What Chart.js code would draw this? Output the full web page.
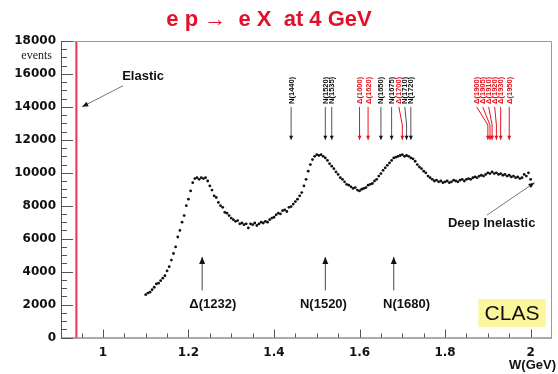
<!DOCTYPE html>
<html>
<head>
<meta charset="utf-8">
<script src="https://cdn.jsdelivr.net/npm/chart.js@4"></script>
<style>
html,body{margin:0;padding:0;background:#fff;}
canvas{display:block;}
</style>
</head>
<body>
<canvas id="c" width="558" height="374" style="width:558px;height:374px"></canvas>
<script>
// ---- data ----
const W = [
1.100,1.105,1.110,1.115,1.120,1.125,1.130,1.135,1.140,1.145,
1.150,1.155,1.160,1.165,1.170,1.175,1.180,1.185,1.190,1.195,
1.200,1.205,1.210,1.215,1.220,1.225,1.230,1.235,1.240,1.245,
1.250,1.255,1.260,1.265,1.270,1.275,1.280,1.285,1.290,1.295,
1.300,1.305,1.310,1.315,1.320,1.325,1.330,1.335,1.340,1.345,
1.350,1.355,1.360,1.365,1.370,1.375,1.380,1.385,1.390,1.395,
1.400,1.405,1.410,1.415,1.420,1.425,1.430,1.435,1.440,1.445,
1.450,1.455,1.460,1.465,1.470,1.475,1.480,1.485,1.490,1.495,
1.500,1.505,1.510,1.515,1.520,1.525,1.530,1.535,1.540,1.545,
1.550,1.555,1.560,1.565,1.570,1.575,1.580,1.585,1.590,1.595,
1.600,1.605,1.610,1.615,1.620,1.625,1.630,1.635,1.640,1.645,
1.650,1.655,1.660,1.665,1.670,1.675,1.680,1.685,1.690,1.695,
1.700,1.705,1.710,1.715,1.720,1.725,1.730,1.735,1.740,1.745,
1.750,1.755,1.760,1.765,1.770,1.775,1.780,1.785,1.790,1.795,
1.800,1.805,1.810,1.815,1.820,1.825,1.830,1.835,1.840,1.845,
1.850,1.855,1.860,1.865,1.870,1.875,1.880,1.885,1.890,1.895,
1.900,1.905,1.910,1.915,1.920,1.925,1.930,1.935,1.940,1.945,
1.950,1.955,1.960,1.965,1.970,1.975,1.980,1.985,1.990,1.995,
2.000];
const events = [
2600,2700,2750,2900,3050,3250,3300,3450,3600,3750,
4050,4300,4700,5100,5500,6100,6500,7000,7400,8000,
8400,8900,9400,9650,9700,9600,9700,9650,9700,9500,
9200,8950,8600,8500,8200,8000,7900,7600,7550,7400,
7250,7150,7050,7100,6900,6950,6850,6900,6650,6900,
6850,6950,6800,6900,7000,6950,7050,7000,7150,7250,
7300,7450,7550,7500,7700,7750,7650,7900,7950,8100,
8250,8400,8600,8800,9200,9600,10100,10500,10800,11000,
11100,11050,11100,11000,10900,10750,10550,10400,10250,10050,
9900,9700,9600,9450,9300,9250,9150,9050,9100,8950,
8900,9000,9050,9100,9250,9300,9350,9500,9600,9800,
9950,10150,10300,10450,10600,10750,10900,10950,11000,11050,
11100,11000,11050,11000,10900,10850,10700,10500,10350,10250,
10100,10000,9800,9700,9600,9500,9550,9450,9500,9400,
9450,9500,9400,9450,9550,9500,9450,9550,9600,9500,
9600,9650,9600,9700,9750,9700,9800,9850,9800,9900,
10000,9950,10050,9950,10000,9900,9950,9850,9900,9800,
9850,9750,9800,9700,9750,9650,9700,9900,9800,10000,
9600];

const xTickValues = [1, 1.2, 1.4, 1.6, 1.8, 2];
const xTickLabels = ['1', '1.2', '1.4', '1.6', '1.8', '2'];
const yTickValues = [0,2000,4000,6000,8000,10000,12000,14000,16000,18000];
const yTickLabels = ['0','2000','4000','6000','8000','10000','12000','14000','16000','18000'];

const elasticW = 0.938;

// resonances marked at the top
const resMass = [1.440,1.520,1.535,1.600,1.620,1.650,1.675,1.700,1.710,1.720,1.900,1.905,1.910,1.920,1.930,1.950];
const resName = ['N(1440)','N(1520)','N(1535)','Δ(1600)','Δ(1620)','N(1650)','N(1675)','Δ(1700)','N(1710)','N(1720)','Δ(1900)','Δ(1905)','Δ(1910)','Δ(1920)','Δ(1930)','Δ(1950)'];

// resonance peaks marked at the bottom
const peakW = [1.232, 1.520, 1.680];
const peakName = ['Δ(1232)', 'N(1520)', 'N(1680)'];

const titleText = 'e p \u2192  e X  at 4 GeV';

// ---- drawing helpers ----
function arrowHead(ctx, x1, y1, x2, y2, L, w) {
  const a = Math.atan2(y2 - y1, x2 - x1);
  ctx.beginPath();
  ctx.moveTo(x2, y2);
  ctx.lineTo(x2 - L*Math.cos(a) + w*Math.sin(a), y2 - L*Math.sin(a) - w*Math.cos(a));
  ctx.lineTo(x2 - L*Math.cos(a) - w*Math.sin(a), y2 - L*Math.sin(a) + w*Math.cos(a));
  ctx.closePath();
  ctx.fill();
}
function polyArrow(ctx, pts, stroke, fill, lw, L, w) {
  ctx.strokeStyle = stroke; ctx.lineWidth = lw;
  ctx.beginPath();
  ctx.moveTo(pts[0][0], pts[0][1]);
  for (let i = 1; i < pts.length; i++) ctx.lineTo(pts[i][0], pts[i][1]);
  ctx.stroke();
  ctx.fillStyle = fill;
  const n = pts.length;
  arrowHead(ctx, pts[n-2][0], pts[n-2][1], pts[n-1][0], pts[n-1][1], L, w);
}

const annot = {
  id: 'annot',
  beforeDatasetsDraw(chart) {
    const {ctx, chartArea: a, scales: {x}} = chart;
    ctx.save();
    const xe = x.getPixelForValue(elasticW);
    ctx.strokeStyle = '#e2364c'; ctx.lineWidth = 2;
    ctx.beginPath(); ctx.moveTo(xe, a.top); ctx.lineTo(xe, a.bottom); ctx.stroke();
    ctx.restore();
  },
  afterDraw(chart) {
    const {ctx, chartArea: a, scales: {x, y}} = chart;
    const px = v => x.getPixelForValue(v);
    const py = v => y.getPixelForValue(v);
    ctx.save();

    // frame
    ctx.strokeStyle = '#9a9a9a'; ctx.lineWidth = 1;
    ctx.beginPath();
    ctx.moveTo(a.left, a.top + 0.5); ctx.lineTo(a.right - 0.5, a.top + 0.5); ctx.lineTo(a.right - 0.5, a.bottom);
    ctx.stroke();
    ctx.strokeStyle = '#555';
    ctx.beginPath();
    ctx.moveTo(a.left + 0.5, a.top); ctx.lineTo(a.left + 0.5, a.bottom + 0.5); ctx.lineTo(a.right, a.bottom + 0.5);
    ctx.stroke();

    // y ticks (inside)
    ctx.strokeStyle = '#555';
    ctx.beginPath();
    for (let v = 0; v <= 18000; v += 500) {
      const yy = Math.round(py(v)) + 0.5;
      const len = (v % 2000 === 0) ? 12 : 6;
      ctx.moveTo(a.left, yy); ctx.lineTo(a.left + len, yy);
    }
    // x ticks (inside)
    for (let i = 0; i <= 22; i++) {
      const v = 0.95 + i * 0.05;
      if (v > 2.04) break;
      const xx = Math.round(px(v)) + 0.5;
      const major = Math.abs(v*5 - Math.round(v*5)) < 1e-6;
      ctx.moveTo(xx, a.bottom); ctx.lineTo(xx, a.bottom - (major ? 8 : 4));
    }
    ctx.stroke();

    // title
    ctx.fillStyle = '#e3102a';
    ctx.font = 'bold 22px "Liberation Sans", Arial, sans-serif';
    ctx.textAlign = 'center'; ctx.textBaseline = 'middle';
    ctx.fillText(titleText, 269, 20);

    // "events" label
    ctx.fillStyle = '#222';
    ctx.font = '12px "Liberation Serif", serif';
    ctx.textAlign = 'right';
    ctx.fillText('events', 52, 56);

    // x-axis title
    ctx.font = 'bold 13px "Liberation Sans", Arial, sans-serif';
    ctx.fillStyle = '#111';
    ctx.textAlign = 'right';
    ctx.fillText('W(GeV)', 556, 365);

    // Elastic
    ctx.textAlign = 'left';
    ctx.fillText('Elastic', px(1.045), py(15840));
    polyArrow(ctx, [[px(1.0475), py(15290)], [px(0.9516), py(14010)]], '#777', '#111', 1, 6, 2.5);

    // Deep Inelastic
    ctx.textAlign = 'center';
    ctx.fillStyle = '#111';
    ctx.fillText('Deep Inelastic', px(1.909), py(6940));
    polyArrow(ctx, [[px(1.898), py(7430)], [px(2.009), py(9400)]], '#777', '#111', 1, 6, 2.5);

    // bottom peak arrows
    const peakTextW = [1.257, 1.5156, 1.7098];
    for (let i = 0; i < peakW.length; i++) {
      polyArrow(ctx, [[px(peakW[i]), py(2860)], [px(peakW[i]), py(4890)]], '#444', '#111', 1, 7, 3);
      ctx.fillStyle = '#111';
      ctx.textAlign = 'center';
      ctx.fillText(peakName[i], px(peakTextW[i]), py(2030));
    }

    // top resonance arrows with rotated labels
    const heads = resMass.map(px);
    const labs = heads.slice();
    for (let i = heads.length - 2; i >= 0; i--) {
      labs[i] = Math.min(heads[i], labs[i+1] - 6);
    }
    const yLab = py(14180), yTail = py(14000), yBend = py(12900), yHead = py(12000);
    ctx.font = 'bold 7.5px "Liberation Sans", Arial, sans-serif';
    for (let i = 0; i < resMass.length; i++) {
      const red = resName[i].charAt(0) === 'Δ';
      const col = red ? '#e8141e' : '#111';
      const stem = red ? '#e8141e' : '#555';
      const pts = Math.abs(labs[i] - heads[i]) > 0.5
        ? [[labs[i], yTail], [heads[i], yBend], [heads[i], yHead]]
        : [[heads[i], yTail], [heads[i], yHead]];
      polyArrow(ctx, pts, stem, col, 1, 4, 2);
      ctx.save();
      ctx.translate(labs[i], yLab);
      ctx.rotate(-Math.PI / 2);
      ctx.fillStyle = col;
      ctx.textAlign = 'left'; ctx.textBaseline = 'middle';
      ctx.fillText(resName[i], 0, 0.5);
      ctx.restore();
    }

    // CLAS box
    const bx1 = px(1.878), bx2 = px(2.035), by1 = py(2333), by2 = py(636);
    ctx.fillStyle = '#fbf59c';
    ctx.fillRect(bx1, by1, bx2 - bx1, by2 - by1);
    ctx.fillStyle = '#111';
    ctx.font = '21px "Liberation Sans", Arial, sans-serif';
    ctx.textAlign = 'center'; ctx.textBaseline = 'middle';
    ctx.fillText('CLAS', (bx1 + bx2) / 2, (by1 + by2) / 2 + 1);

    ctx.restore();
  }
};

new Chart(document.getElementById('c'), {
  type: 'scatter',
  data: {
    datasets: [{
      data: W.map((w, i) => ({x: w, y: events[i]})),
      pointRadius: 1.4,
      pointBackgroundColor: '#111',
      pointBorderWidth: 0,
      showLine: false
    }]
  },
  options: {
    responsive: false,
    animation: false,
    events: [],
    layout: {padding: {top: 41, right: 6, left: 0, bottom: 0}},
    plugins: {legend: {display: false}, tooltip: {enabled: false}, title: {display: false}},
    scales: {
      x: {
        type: 'linear', min: 0.902, max: 2.05,
        grid: {display: false, drawTicks: false},
        border: {display: false},
        afterFit(s) { s.height = 36.5; },
        afterBuildTicks(s) { s.ticks = xTickValues.map(v => ({value: v})); },
        ticks: {
          padding: 8,
          color: '#111',
          font: {family: '"DejaVu Sans", sans-serif', weight: 'bold', size: 12},
          callback: (v) => xTickLabels[xTickValues.indexOf(v)],
          maxRotation: 0, autoSkip: false
        }
      },
      y: {
        min: 0, max: 18000,
        grid: {display: false, drawTicks: false},
        border: {display: false},
        afterFit(s) { s.width = 61; },
        afterBuildTicks(s) { s.ticks = yTickValues.map(v => ({value: v})); },
        ticks: {
          padding: 5,
          color: '#111',
          font: {family: '"DejaVu Sans", sans-serif', weight: 'bold', size: 12},
          callback: (v) => yTickLabels[yTickValues.indexOf(v)],
          autoSkip: false
        }
      }
    }
  },
  plugins: [annot]
});
</script>
</body>
</html>
